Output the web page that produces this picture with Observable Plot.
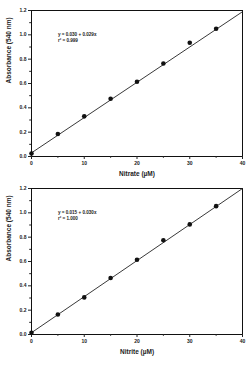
<!DOCTYPE html>
<html><head><meta charset="utf-8">
<script src="https://cdn.jsdelivr.net/npm/d3@7"></script>
<script src="https://cdn.jsdelivr.net/npm/@observablehq/plot@0.6"></script>
<style>
body{margin:0;background:#fff;}
#c svg{display:block;}
</style></head>
<body><div id="c"></div>
<script>
const conc = [0, 5, 10, 15, 20, 25, 30, 35];
const nitrateAbs = [0.025, 0.185, 0.33, 0.475, 0.615, 0.765, 0.935, 1.05];
const nitriteAbs = [0.015, 0.165, 0.305, 0.465, 0.615, 0.775, 0.905, 1.055];
const fitX = [0, 40];
const nitrateFit = [0.030, 1.19];
const nitriteFit = [0.015, 1.2];
const nitrateEq = ["y = 0.030 + 0.029x", "r\u00b2 = 0.999"];
const nitriteEq = ["y = 0.015 + 0.030x", "r\u00b2 = 1.000"];
const xMajor = [0, 10, 20, 30, 40];
const xMinor = [5, 15, 25, 35];
const yMajor = [0, 0.2, 0.4, 0.6, 0.8, 1.0, 1.2];
const yMinor = [0.1, 0.3, 0.5, 0.7, 0.9, 1.1];
const yLabel = "Absorbance (540 nm)";

function panel(vals, fit, eq, xLabel, h, mt, mb) {
  const pts = conc.map((x, i) => ({x, y: vals[i]}));
  const line = fitX.map((x, i) => ({x, y: fit[i]}));
  const txt = [{x: 5, y: 1.0, t: eq[0]}, {x: 5, y: 0.955, t: eq[1]}];
  return Plot.plot({
    width: 250, height: h,
    marginTop: mt, marginBottom: mb, marginLeft: 31, marginRight: 8,
    style: {fontFamily: "Liberation Sans, Arial, sans-serif", fontSize: "5px", fontWeight: "bold", color: "#222"},
    x: {domain: [0, 40]},
    y: {domain: [0, 1.2]},
    marks: [
      Plot.frame({stroke: "#111", strokeWidth: 1}),
      Plot.axisX({ticks: xMajor, tickSize: 3, tickPadding: 2, tickFormat: d3.format("d"), label: null, fontSize: 5, fontWeight: "bold"}),
      Plot.axisX({ticks: xMinor, tickSize: 1.8, text: null, label: null}),
      Plot.axisY({ticks: yMajor, tickSize: 3, tickPadding: 2, tickFormat: d3.format(".1f"), label: null, fontSize: 5, fontWeight: "bold"}),
      Plot.axisY({ticks: yMinor, tickSize: 1.8, text: null, label: null}),
      Plot.text([xLabel], {frameAnchor: "bottom", dy: 19, text: d => d, fontSize: 6.5, fontWeight: "bold", fill: "#222"}),
      Plot.text([yLabel], {frameAnchor: "left", dx: -23, rotate: -90, text: d => d, fontSize: 6.5, fontWeight: "bold", fill: "#222"}),
      Plot.line(line, {x: "x", y: "y", stroke: "#222", strokeWidth: 0.9}),
      Plot.dot(pts, {x: "x", y: "y", r: 2.3, fill: "#111", stroke: "none"}),
      Plot.text(txt, {x: "x", y: "y", text: "t", textAnchor: "start", fontSize: 4.6, fontWeight: "bold", fill: "#222"})
    ]
  });
}
const c = document.getElementById("c");
c.appendChild(panel(nitrateAbs, nitrateFit, nitrateEq, "Nitrate (\u00b5M)", 180, 10, 24));
c.appendChild(panel(nitriteAbs, nitriteFit, nitriteEq, "Nitrite (\u00b5M)", 185, 8, 31));
</script></body></html>
